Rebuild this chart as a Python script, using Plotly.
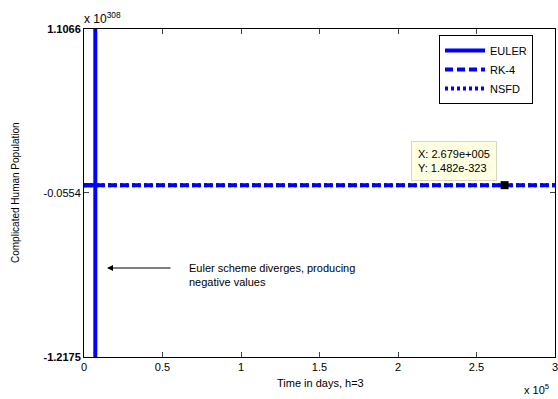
import plotly.graph_objects as go

# Data (x in units of 1e5 days, y in units of 1e308)
euler_t = [0.0, 0.072, 0.072, 0.072]
euler_y = [0.0, 0.0, 1.2, -1.3]
rk4_t = [0.0, 0.5, 1.0, 1.5, 2.0, 2.5, 3.0]
rk4_y = [0.0, 0.0, 0.0, 0.0, 0.0, 0.0, 0.0]
nsfd_t = [0.0, 0.5, 1.0, 1.5, 2.0, 2.5, 3.0]
nsfd_y = [0.0, 0.0, 0.0, 0.0, 0.0, 0.0, 0.0]
tip_x = [2.679]
tip_y = [0.0]
x_ticks = [0, 0.5, 1, 1.5, 2, 2.5, 3]
x_ticklabels = ["0", "0.5", "1", "1.5", "2", "2.5", "3"]
y_ticks = [-1.2175, -0.0554, 1.1066]
y_ticklabels = ["<b>-1.2175</b>", "-0.0554", "<b>1.1066</b>"]

W, H = 558, 399
L, R, T, B = 84, 3, 29, 42
pw, ph = W - L - R, H - T - B

def px(x):
    return (x - L) / pw

def py(y):
    return (H - B - y) / ph

blue = "#0000FF"
fig = go.Figure()
fig.add_trace(go.Scatter(x=euler_t, y=euler_y, mode="lines", name="EULER",
                         line=dict(color=blue, width=4)))
fig.add_trace(go.Scatter(x=rk4_t, y=rk4_y, mode="lines", name="RK-4",
                         line=dict(color=blue, width=4, dash="8px,4px")))
fig.add_trace(go.Scatter(x=nsfd_t, y=nsfd_y, mode="lines", name="NSFD",
                         line=dict(color=blue, width=4, dash="3px,3px")))
fig.add_trace(go.Scatter(x=tip_x, y=tip_y, mode="markers", showlegend=False,
                         marker=dict(symbol="square", size=8, color="black")))

font = dict(family="Liberation Sans, Arial, sans-serif", size=11, color="black")
fig.update_layout(
    width=W, height=H,
    margin=dict(l=L, r=R, t=T, b=B, autoexpand=False),
    paper_bgcolor="white", plot_bgcolor="white",
    font=font,
    showlegend=True,
    legend=dict(x=px(439), y=py(35), xanchor="left", yanchor="top",
                bordercolor="black", borderwidth=1, bgcolor="white",
                font=dict(size=11), tracegroupgap=0, itemwidth=40),
    xaxis=dict(range=[0, 3], tickvals=x_ticks, ticktext=x_ticklabels,
               ticks="inside", ticklen=5, showline=True, linecolor="black",
               linewidth=1, mirror="ticks", showgrid=False, zeroline=False,
               tickfont=dict(size=11), ticklabeloverflow="allow",
               automargin=False),
    yaxis=dict(range=[-1.2175, 1.1066], tickvals=y_ticks, ticktext=y_ticklabels,
               ticks="inside", ticklen=5, showline=True, linecolor="black",
               linewidth=1, mirror="ticks", showgrid=False, zeroline=False,
               tickfont=dict(size=11), ticklabeloverflow="allow",
               automargin=False),
)

ann = []
ann.append(dict(xref="paper", yref="paper", x=px(320), y=py(383),
                xanchor="center", yanchor="middle",
                text="Time in days, h=3", showarrow=False, font=dict(size=11)))
ann.append(dict(xref="paper", yref="paper", x=px(15), y=py(193),
                xanchor="center", yanchor="middle",
                text="Complicated Human Population", textangle=-90,
                showarrow=False, font=dict(size=10)))
ann.append(dict(xref="paper", yref="paper", x=px(82), y=py(8), xanchor="left",
                yanchor="top",
                text="x 10<sup>308</sup>", showarrow=False, font=dict(size=12)))
ann.append(dict(xref="paper", yref="paper", x=px(522), y=py(380), xanchor="left",
                yanchor="top",
                text="x 10<sup>5</sup>", showarrow=False, font=dict(size=11)))
ann.append(dict(xref="paper", yref="paper", x=px(107), y=py(268),
                ax=65, ay=0, axref="pixel", ayref="pixel",
                text="", showarrow=True, arrowhead=2, arrowsize=1.2,
                arrowwidth=1, arrowcolor="black"))
ann.append(dict(xref="paper", yref="paper", x=px(187), y=py(275),
                xanchor="left", yanchor="middle", align="left",
                text="Euler scheme diverges, producing<br>negative values",
                showarrow=False, font=dict(size=11)))
ann.append(dict(xref="paper", yref="paper", x=px(411), y=py(161),
                xanchor="left", yanchor="middle", align="left",
                text="X: 2.679e+005<br>Y: 1.482e-323", showarrow=False,
                font=dict(size=11), bgcolor="#FFFFE1", bordercolor="#D8D8C0",
                borderwidth=1, borderpad=6))
fig.update_layout(annotations=ann)

fig.write_html("out.html")
